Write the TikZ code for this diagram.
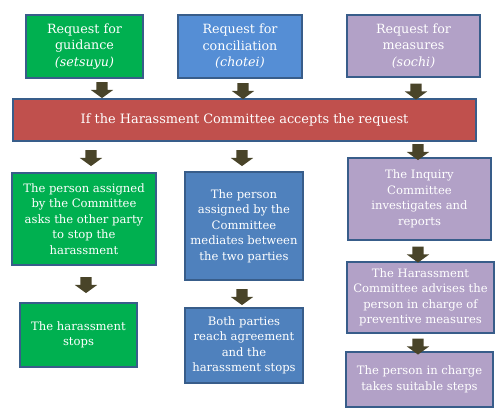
\documentclass[tikz,border=0pt]{standalone}
\usepackage{fontspec}
\setmainfont{DejaVu Serif}
\usetikzlibrary{shapes.arrows}
\definecolor{guidegreen}{RGB}{0,176,80}
\definecolor{concblue}{RGB}{85,142,213}
\definecolor{stepblue}{RGB}{79,129,189}
\definecolor{measpurple}{RGB}{178,161,199}
\definecolor{acceptred}{RGB}{192,80,77}
\definecolor{edgeblue}{RGB}{56,93,138}
\definecolor{arrowolive}{RGB}{73,68,41}
\tikzset{
  box/.style={draw=edgeblue, line width=1.2pt, text=white, align=center, inner sep=0pt,
    font=\fontsize{11.6}{15.5}\selectfont},
  topbox/.style={box, font=\fontsize{12.7}{16.5}\selectfont},
  blockarrow/.style={single arrow, fill=arrowolive, draw=none, inner sep=5.5pt,
    minimum height=16pt, single arrow head extend=5.5pt,
    single arrow tip angle=108, shape border rotate=270}
}

\begin{document}
\begin{tikzpicture}[x=1pt,y=-1pt]
  \useasboundingbox (0,0) rectangle (504,417);
  % three kinds of request
  \node[topbox, fill=guidegreen, minimum width=117pt, minimum height=63pt] (req1) at (84.5,46.5)
    {Request for\\guidance\\\textit{(setsuyu)}};
  \node[topbox, fill=concblue, minimum width=124pt, minimum height=63pt] (req2) at (240,46.5)
    {Request for\\conciliation\\\textit{(chotei)}};
  \node[topbox, fill=measpurple, minimum width=133pt, minimum height=62pt] (req3) at (413.5,46)
    {Request for\\measures\\\textit{(sochi)}};
  \node[box, fill=acceptred, minimum width=463pt, minimum height=42pt, font=\fontsize{12.9}{15}\selectfont] (accept) at (244.5,120)
    {If the Harassment Committee accepts the request};
  % guidance
  \node[box, fill=guidegreen, minimum width=144pt, minimum height=92pt] (guide1) at (84,219)
    {The person assigned\\by the Committee\\asks the other party\\to stop the\\harassment};
  \node[box, fill=guidegreen, minimum width=117pt, minimum height=64pt] (guide2) at (78.5,335)
    {The harassment\\stops};
  % conciliation
  \node[box, fill=stepblue, minimum width=118pt, minimum height=108pt] (conc1) at (244,226)
    {The person\\assigned by the\\Committee\\mediates between\\the two parties};
  \node[box, fill=stepblue, minimum width=118pt, minimum height=75pt] (conc2) at (244,345.5)
    {Both parties\\reach agreement\\and the\\harassment stops};
  % measures
  \node[box, fill=measpurple, minimum width=143pt, minimum height=82pt] (meas1) at (419.5,199)
    {The Inquiry\\Committee\\investigates and\\reports};
  \node[box, fill=measpurple, minimum width=147pt, minimum height=71pt] (meas2) at (420.5,297.5)
    {The Harassment\\Committee advises the\\person in charge of\\preventive measures};
  \node[box, fill=measpurple, minimum width=147pt, minimum height=55pt] (meas3) at (419.5,379.5)
    {The person in charge\\takes suitable steps};
  % block arrows
  \foreach \x/\y [count=\i] in {102/88, 243/89, 416/89.5, 91/156, 242/156, 418/150,
      418/252.5, 86/283, 242/295, 418/344.5}
    \node[blockarrow] (arr\i) at (\x,\y) {};
\end{tikzpicture}
\end{document}
